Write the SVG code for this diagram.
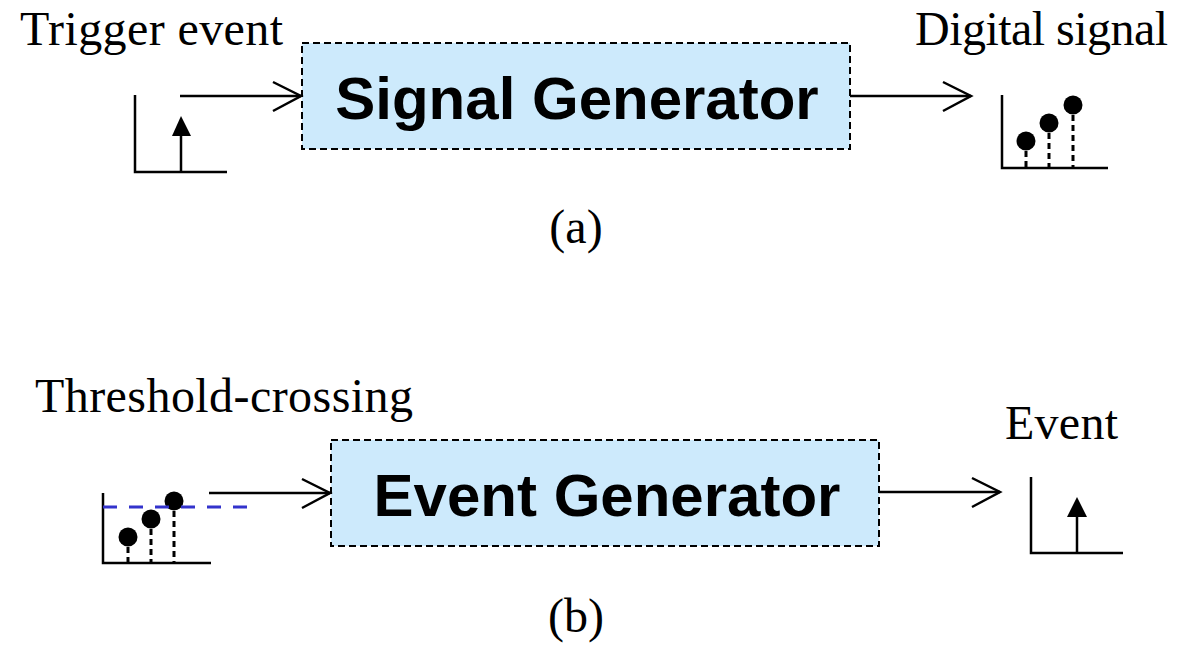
<svg xmlns="http://www.w3.org/2000/svg" width="1178" height="646" viewBox="0 0 1178 646">
<style>
.lbl{font-family:"Liberation Serif","Times New Roman",serif;font-size:48px;fill:#000}
.box{fill:#cdeafc;stroke:#000;stroke-width:2;stroke-dasharray:7,4}
.title{font-family:"Liberation Sans",Arial,sans-serif;font-weight:bold;font-size:60px;fill:#000;text-anchor:middle}
.ln{stroke:#000;stroke-width:2.5;fill:none}
.dash{stroke:#000;stroke-width:3;stroke-dasharray:6,4;fill:none}
.open{stroke:#000;stroke-width:2.5;fill:none}
</style>
<rect width="1178" height="646" fill="#fff"/>

<g id="label-trigger"><text class="lbl" x="20" y="45" textLength="263" lengthAdjust="spacing">Trigger event</text></g>
<g id="label-digital"><text class="lbl" x="915" y="45" textLength="253" lengthAdjust="spacing">Digital signal</text></g>
<g id="caption-a"><text class="lbl" x="576" y="243" text-anchor="middle">(a)</text></g>
<g id="label-threshold"><text class="lbl" x="35" y="412" textLength="378" lengthAdjust="spacing">Threshold-crossing</text></g>
<g id="label-event"><text class="lbl" x="1005" y="439" textLength="113" lengthAdjust="spacing">Event</text></g>
<g id="caption-b"><text class="lbl" x="576" y="632" text-anchor="middle">(b)</text></g>

<g id="signal-generator">
<rect class="box" x="302" y="43" width="548" height="106"/>
<text class="title" x="577" y="119">Signal Generator</text>
</g>

<g id="event-generator">
<rect class="box" x="331" y="440" width="548" height="106"/>
<text class="title" x="607" y="516">Event Generator</text>
</g>

<g id="trigger-plot">
<path class="ln" d="M135,95 V172 H227"/>
<line class="ln" x1="181" y1="172" x2="181" y2="134"/>
<polygon points="181,116 172,136 191,136" fill="#000"/>
</g>

<g id="digital-plot">
<path class="ln" d="M1002,95 V168 H1108"/>
<line class="dash" x1="1026" y1="141" x2="1026" y2="168"/>
<line class="dash" x1="1049" y1="123" x2="1049" y2="168"/>
<line class="dash" x1="1073" y1="105" x2="1073" y2="168"/>
<circle cx="1026" cy="141" r="9.5" fill="#000"/>
<circle cx="1049" cy="123" r="9.5" fill="#000"/>
<circle cx="1073" cy="105" r="9.5" fill="#000"/>
</g>

<g id="threshold-plot">
<path class="ln" d="M103,493 V563 H211"/>
<line class="dash" x1="128" y1="537" x2="128" y2="563"/>
<line class="dash" x1="151" y1="519" x2="151" y2="563"/>
<line class="dash" x1="174" y1="501" x2="174" y2="563"/>
<circle cx="128" cy="537" r="9.5" fill="#000"/>
<circle cx="151" cy="519" r="9.5" fill="#000"/>
<circle cx="174" cy="501" r="9.5" fill="#000"/>
<line x1="103" y1="507" x2="252" y2="507" stroke="#3333cc" stroke-width="3" stroke-dasharray="14,12"/>
</g>

<g id="event-plot">
<path class="ln" d="M1031,477 V553 H1123"/>
<line class="ln" x1="1077" y1="553" x2="1077" y2="515"/>
<polygon points="1077,497 1067,517 1087,517" fill="#000"/>
</g>

<g id="connectors">
<line class="ln" x1="180" y1="96" x2="301" y2="96"/>
<polyline class="open" points="273,82 301,96 273,111"/>
<line class="ln" x1="850" y1="96" x2="971" y2="96"/>
<polyline class="open" points="943,82 971,96 943,111"/>
<line class="ln" x1="209" y1="493" x2="330" y2="493"/>
<polyline class="open" points="302,479 330,493 302,508"/>
<line class="ln" x1="879" y1="492" x2="1000" y2="492"/>
<polyline class="open" points="972,478 1000,492 972,507"/>
</g>
</svg>
